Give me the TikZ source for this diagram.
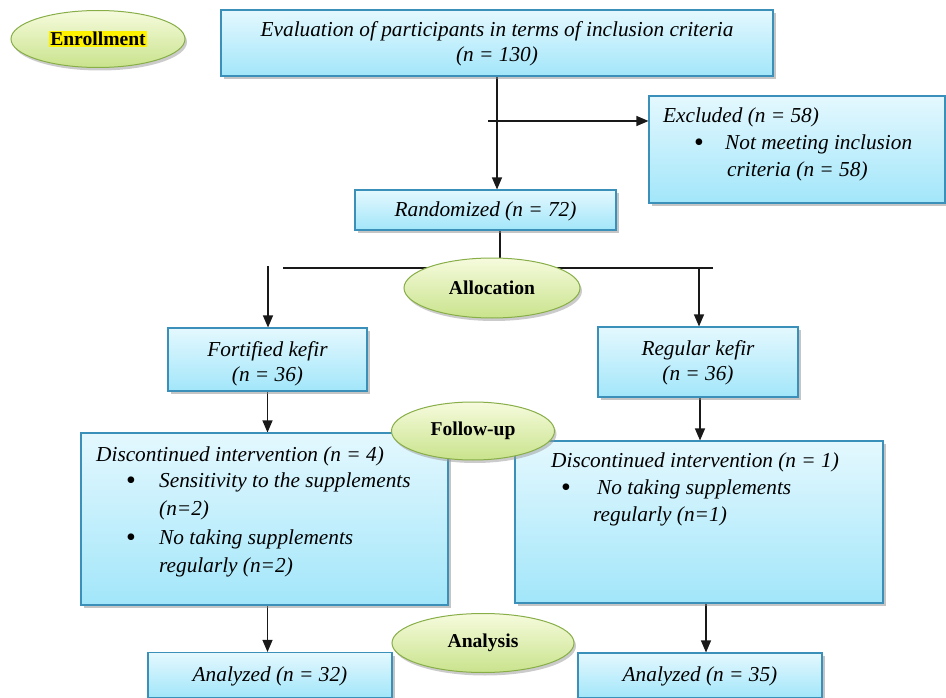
\documentclass[tikz,border=0pt]{standalone}
\usepackage{fontspec}
\setmainfont{Liberation Serif}
\usetikzlibrary{shapes.geometric,shadows,arrows.meta}
\definecolor{boxtop}{HTML}{E4F8FE}
\definecolor{boxbot}{HTML}{A2E6FA}
\definecolor{boxline}{HTML}{3A90B8}
\definecolor{elltop}{HTML}{F6FBDD}
\definecolor{ellbot}{HTML}{C9E38C}
\definecolor{elline}{HTML}{88AE48}
\pgfdeclarelayer{bg}
\pgfsetlayers{bg,main}
\setlength{\fboxsep}{1pt}
\begin{document}
\begin{tikzpicture}[x=1pt,y=-1pt,
  box/.style={draw=boxline, line width=1.1pt, top color=boxtop, bottom color=boxbot,
    drop shadow={shadow xshift=3pt, shadow yshift=-3pt, fill=black!45}, inner sep=0pt},
  ell/.style={ellipse, draw=elline, line width=1pt, top color=elltop, bottom color=ellbot,
    drop shadow={shadow xshift=2pt, shadow yshift=-3pt, fill=black!40}, inner sep=0pt,
    font=\fontsize{19.6}{21}\selectfont\bfseries},
  txt/.style={font=\fontsize{21.3}{26}\selectfont\itshape, inner sep=0pt},
  bul/.style={font=\fontsize{28}{26}\selectfont, inner sep=0pt},
  arr/.style={-{Triangle[length=12pt,width=10pt]}, line width=1.2pt, draw=black!90},
  ln/.style={line width=1.2pt, draw=black!90}]
\useasboundingbox (0,0) rectangle (946,698);

% boxes
\node[box, minimum width=552pt, minimum height=66pt] (eval) at (497,43) {};
\node[box, minimum width=296pt, minimum height=107pt] (excl) at (797,149.5) {};
\node[box, minimum width=261pt, minimum height=40pt] (rand) at (485.5,210) {};
\node[box, minimum width=199pt, minimum height=63pt] (fort) at (267.5,359.5) {};
\node[box, minimum width=200pt, minimum height=70pt] (reg) at (698,362) {};
\node[box, minimum width=367pt, minimum height=172pt] (disL) at (264.5,519) {};
\node[box, minimum width=368pt, minimum height=162pt] (disR) at (699,522) {};
\node[box, minimum width=244pt, minimum height=45pt] (anL) at (270,675) {};
\node[box, minimum width=244pt, minimum height=45pt] (anR) at (700,675.5) {};

% ellipses
\node[ell, minimum width=174pt, minimum height=57pt] (enr) at (98,39) {\colorbox{yellow}{Enrollment}};
\node[ell, minimum width=176pt, minimum height=60pt] (alloc) at (492,288) {Allocation};
\node[ell, minimum width=163pt, minimum height=58pt] (foll) at (473,431) {Follow-up};
\node[ell, minimum width=182pt, minimum height=59pt] (anal) at (483,643) {Analysis};

% texts
\node[txt, anchor=base] (t1) at (497,37) {Evaluation of participants in terms of inclusion criteria};
\node[txt, anchor=base] (t2) at (497,62) {(n = 130)};
\node[txt, anchor=base west] (e1) at (663,123) {Excluded (n = 58)};
\node[bul, anchor=base] (eb) at (699,152) {\textbullet};
\node[txt, anchor=base west] (e2) at (725,150) {Not meeting inclusion};
\node[txt, anchor=base west] (e3) at (727,177) {criteria (n = 58)};
\node[txt, anchor=base] (r1) at (485.5,217) {Randomized (n = 72)};
\node[txt, anchor=base] (f1) at (267.5,356) {Fortified kefir};
\node[txt, anchor=base] (f2) at (267.5,381) {(n = 36)};
\node[txt, anchor=base] (g1) at (698,355) {Regular kefir};
\node[txt, anchor=base] (g2) at (698,380) {(n = 36)};
\node[txt, anchor=base west] (l1) at (96,461) {Discontinued intervention (n = 4)};
\node[bul, anchor=base] (lb1) at (131,489) {\textbullet};
\node[txt, anchor=base west] (l2) at (159,487) {Sensitivity to the supplements};
\node[txt, anchor=base west] (l3) at (159,515) {(n=2)};
\node[bul, anchor=base] (lb2) at (131,546) {\textbullet};
\node[txt, anchor=base west] (l4) at (159,544) {No taking supplements};
\node[txt, anchor=base west] (l5) at (159,572) {regularly (n=2)};
\node[txt, anchor=base west] (m1) at (551,467) {Discontinued intervention (n = 1)};
\node[bul, anchor=base] (mb) at (566,496) {\textbullet};
\node[txt, anchor=base west] (m2) at (597,494) {No taking supplements};
\node[txt, anchor=base west] (m3) at (593,521) {regularly (n=1)};
\node[txt, anchor=base] (a1) at (270,681) {Analyzed (n = 32)};
\node[txt, anchor=base] (a2) at (700,681) {Analyzed (n = 35)};

% connectors
\coordinate (xa) at (488,121);
\coordinate (hl) at (283,268);
\coordinate (hr) at (713,268);
\coordinate (la) at (268,266);
\coordinate (rb) at (699,268);
\begin{pgfonlayer}{bg}
\fill[white] (0,0) rectangle (946,698);
\draw[arr] (eval.south) -- (eval.south |- rand.north);
\draw[arr] (xa) -- (xa -| excl.west);
\draw[ln] ([xshift=14.5pt]rand.south) -- ([xshift=14.5pt]rand.south |- hl);
\draw[ln] (hl) -- (hr);
\draw[arr] (la) -- (la |- fort.north);
\draw[arr] (rb) -- (rb |- reg.north);
\draw[arr] (fort.south) -- (fort.south |- disL.north);
\draw[arr] ([xshift=2pt]reg.south) -- ([xshift=2pt]reg.south |- disR.north);
\draw[arr] ([xshift=3pt]disL.south) -- ([xshift=3pt]disL.south |- anL.north);
\draw[arr] ([xshift=7pt]disR.south) -- ([xshift=7pt]disR.south |- anR.north);
\end{pgfonlayer}
\end{tikzpicture}
\end{document}
